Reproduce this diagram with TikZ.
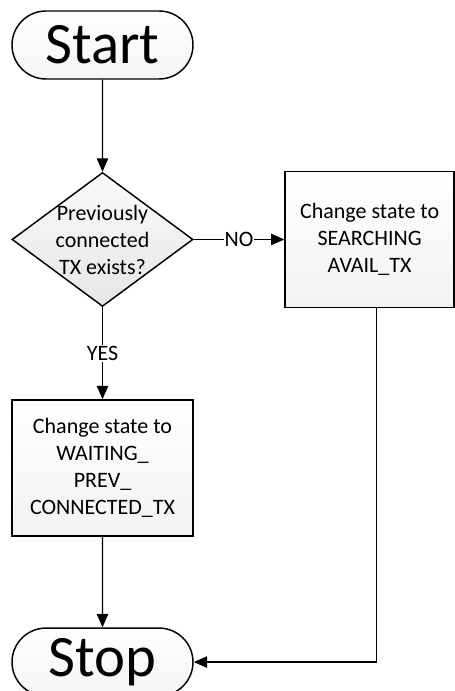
\documentclass[tikz,border=0pt]{standalone}
\usepackage{fontspec}
\setmainfont{Carlito}
\usetikzlibrary{positioning,shapes.geometric,shapes.misc,arrows.meta}

\begin{document}
\begin{tikzpicture}[->, >={Triangle[length=10pt,width=8.5pt]}, node distance=69pt,
  every node/.style={font=\fontsize{16.5pt}{20.25pt}\selectfont},
  term/.style={rounded rectangle, draw, line width=1.1pt, top color=white, bottom color=gray!8,
    minimum width=135.75pt, minimum height=51pt, inner sep=0pt, font=\fontsize{44pt}{48pt}\selectfont},
  decision/.style={diamond, draw, line width=1.1pt, top color=gray!4, bottom color=gray!20,
    minimum width=135.75pt, minimum height=100.5pt, inner sep=-7.5pt, align=center},
  statebox/.style={rectangle, draw, line width=1.1pt, top color=white, bottom color=gray!10,
    minimum width=135.75pt, minimum height=102pt, align=center},
  flow/.style={line width=0.9pt}]
\useasboundingbox (0,0) rectangle (340.5pt,-518.25pt);

\node[term] (start) at (76.875pt,-33.75pt) {Start};
\node[decision, below=of start] (prevtx) {Previously\\connected\\TX exists?};
\node[statebox, right=68pt of prevtx, minimum width=126.75pt] (search) {Change state to\\SEARCHING\\AVAIL\_TX};
\node[statebox, below=of prevtx] (waitprev) {Change state to\\WAITING\_\\PREV\_\\CONNECTED\_TX};
\node[term, below=68pt of waitprev] (stop) {Stop};

\path[flow] (start) edge (prevtx);
\path[flow] (prevtx) edge node[fill=white, inner sep=0.5pt] {NO} (search);
\path[flow] (prevtx) edge node[fill=white, inner sep=1pt] {YES} (waitprev);
\path[flow] (waitprev) edge (stop);
\draw[flow] ([xshift=5pt]search.south) |- (stop.east);
\end{tikzpicture}
\end{document}
